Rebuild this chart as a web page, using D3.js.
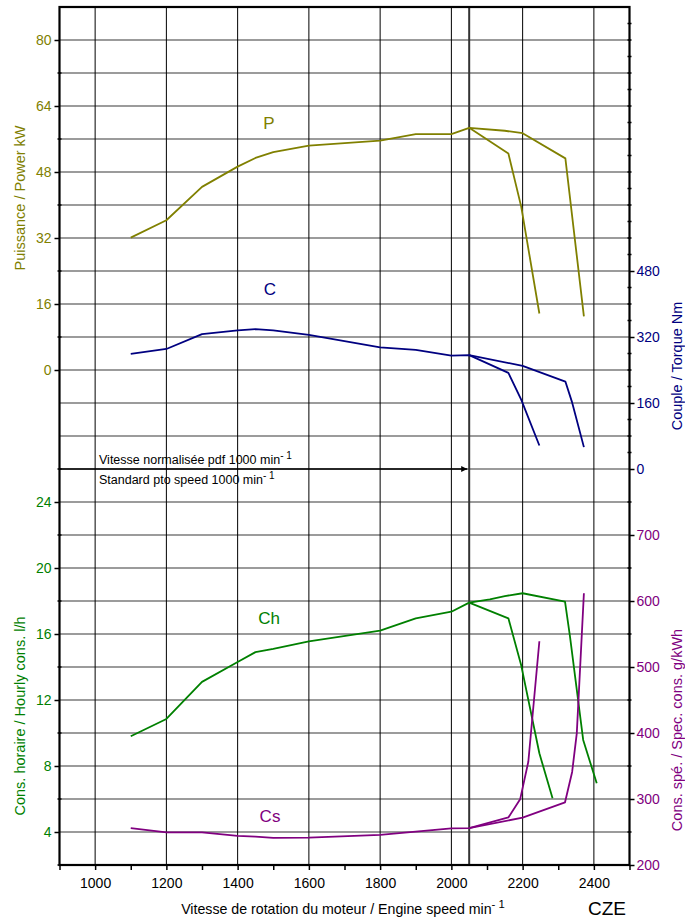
<!DOCTYPE html>
<html>
<head>
<meta charset="utf-8">
<style>
    body { margin: 0; background: #fff; }
    svg { font-family: "Liberation Sans", Arial, sans-serif; }
    .hgrid { stroke: #7a7a7a; stroke-width: 1.6; }
    .vgrid { stroke: #000; stroke-width: 1; }
    .frame { stroke: #000; stroke-width: 2.2; fill: none; }
    .curve { fill: none; stroke-width: 1.8; stroke-linejoin: round; }
    .axis path { display: none; }
    .axis line { stroke: #000; stroke-width: 1.5; }
    .axis text { font-size: 14px; }
</style>
</head>
<body>
<svg id="chart" width="685" height="921"></svg>
<script src="https://cdn.jsdelivr.net/npm/d3@7"></script>
<script>
    // engine speed, common part of every curve (min-1)
    const speedMain = [1100, 1200, 1300, 1400, 1450, 1500, 1600, 1800, 1900, 2000, 2050]

    // power kW
    const powerMain = [32.1, 36.3, 44.4, 49.3, 51.4, 52.8, 54.4, 55.6, 57.2, 57.2, 58.7]
    const powerHigh = [[2050, 58.7], [2150, 58.0], [2200, 57.4], [2320, 51.3], [2372, 13.0]]
    const powerLow = [[2050, 58.7], [2160, 52.5], [2196, 39.6], [2247, 13.7]]

    // torque Nm
    const torqueMain = [279, 291, 327, 336, 339, 336, 325, 295, 289, 275, 276]
    const torqueHigh = [[2050, 276], [2200, 250], [2320, 212], [2338, 164], [2372, 53]]
    const torqueLow = [[2050, 276], [2160, 233], [2196, 168], [2247, 57]]

    // hourly consumption l/h
    const hourlyMain = [9.8, 10.85, 13.1, 14.3, 14.9, 15.1, 15.55, 16.2, 16.95, 17.35, 17.9]
    const hourlyHigh = [[2050, 17.9], [2108, 18.1], [2150, 18.3], [2200, 18.47], [2319, 17.96], [2333, 15.84], [2370, 9.58], [2408, 6.95]]
    const hourlyLow = [[2050, 17.9], [2160, 16.95], [2196, 14.1], [2247, 8.77], [2284, 6.04]]

    // specific consumption g/kWh
    const specMain = [256, 249.5, 249.5, 244, 243, 241, 241.4, 245.5, 250.5, 255.6, 256]
    const specHigh = [[2050, 256], [2200, 271.7], [2319, 295], [2339, 341], [2352, 399.5], [2372, 611.7]]
    const specLow = [[2050, 256], [2160, 272], [2193, 299.5], [2216, 356.5], [2247, 539]]

    // tick labels
    const speedTicks = [1000, 1200, 1400, 1600, 1800, 2000, 2200, 2400]
    const powerTicks = [0, 16, 32, 48, 64, 80]
    const torqueTicks = [0, 160, 320, 480]
    const hourlyTicks = [4, 8, 12, 16, 20, 24]
    const specTicks = [200, 300, 400, 500, 600, 700]
    const ptoSpeed = 2050

    const colP = "#808000", colC = "#000080", colCh = "#008000", colCs = "#800080"

    let svg = d3.select("#chart")
    let plotLeft = 59.5, plotRight = 629.5, plotTop = 7, plotBottom = 865

    let x = d3.scaleLinear().domain([900, 2500]).range([plotLeft, plotRight])
    // 8 kW per grid row, the whole height is 26 rows
    let yP = d3.scaleLinear().domain([-120, 88]).range([plotBottom, plotTop])
    let yT = d3.scaleLinear().domain([0, 1120]).range([469, plotTop])
    let yCh = d3.scaleLinear().domain([2, 26]).range([plotBottom, 469])
    let yCs = d3.scaleLinear().domain([200, 800]).range([plotBottom, 469])

    // grid
    svg.append("g").selectAll("line")
        .data(d3.range(-112, 88, 8))
        .join("line")
        .attr("class", "hgrid")
        .attr("x1", plotLeft).attr("x2", plotRight)
        .attr("y1", d => yP(d)).attr("y2", d => yP(d))

    svg.append("g").selectAll("line")
        .data(speedTicks)
        .join("line")
        .attr("class", "vgrid")
        .attr("x1", d => x(d)).attr("x2", d => x(d))
        .attr("y1", plotTop).attr("y2", plotBottom)

    svg.append("line")
        .attr("x1", x(ptoSpeed)).attr("x2", x(ptoSpeed))
        .attr("y1", plotTop).attr("y2", plotBottom)
        .attr("stroke", "#333").attr("stroke-width", 2)

    // frame
    svg.append("rect").attr("class", "frame")
        .attr("x", plotLeft).attr("y", plotTop)
        .attr("width", plotRight - plotLeft).attr("height", plotBottom - plotTop)

    // pto arrow
    svg.append("defs").append("marker")
        .attr("id", "arrow").attr("viewBox", "0 0 10 10")
        .attr("refX", 10).attr("refY", 5)
        .attr("markerWidth", 9).attr("markerHeight", 6)
        .attr("markerUnits", "userSpaceOnUse")
        .attr("orient", "auto")
        .append("path").attr("d", "M0,0L10,5L0,10Z").attr("fill", "#000")

    svg.append("line")
        .attr("x1", plotLeft).attr("x2", x(ptoSpeed) - 2)
        .attr("y1", yT(0)).attr("y2", yT(0))
        .attr("stroke", "#000").attr("stroke-width", 1.3)
        .attr("marker-end", "url(#arrow)")

    function supText(sel, main, xx, yy, size) {
        let t = sel.append("text").attr("x", xx).attr("y", yy).attr("font-size", size)
        t.append("tspan").text(main)
        t.append("tspan").text("- 1").attr("font-size", size * 0.8).attr("dy", -size * 0.4)
        return t
    }
    supText(svg, "Vitesse normalisée pdf 1000 min", 99, 464, 12.5)
    supText(svg, "Standard pto speed 1000 min", 99, 484, 12.5)

    // axes
    function minor(sel, values, scale, xx, color) {
        sel.append("g").selectAll("line")
            .data(values)
            .join("line")
            .attr("x1", xx - 2).attr("x2", xx + 2)
            .attr("y1", d => scale(d)).attr("y2", d => scale(d))
            .attr("stroke", color).attr("stroke-width", 1.5)
    }

    let gx = svg.append("g").attr("class", "axis")
        .attr("transform", `translate(0,${plotBottom})`)
        .call(d3.axisBottom(x).tickValues(d3.range(900, 2501, 100)).tickSize(5)
            .tickFormat(d => speedTicks.includes(d) ? d : ""))
    gx.selectAll("text").attr("dy", "1.1em")

    let gP = svg.append("g").attr("class", "axis")
        .attr("transform", `translate(${plotLeft},0)`)
        .call(d3.axisLeft(yP).tickValues(powerTicks).tickSize(5).tickPadding(3))
    gP.selectAll("text").attr("fill", colP)
    minor(svg, d3.range(8, 88, 16), yP, plotLeft, "#000")

    let gCh = svg.append("g").attr("class", "axis")
        .attr("transform", `translate(${plotLeft},0)`)
        .call(d3.axisLeft(yCh).tickValues(hourlyTicks).tickSize(5).tickPadding(3))
    gCh.selectAll("text").attr("fill", colCh)
    minor(svg, d3.range(2, 27, 2).filter(d => !hourlyTicks.includes(d)), yCh, plotLeft, "#000")

    let gT = svg.append("g").attr("class", "axis")
        .attr("transform", `translate(${plotRight},0)`)
        .call(d3.axisRight(yT).tickValues(torqueTicks).tickSize(5).tickPadding(2))
    gT.selectAll("text").attr("fill", colC)
    minor(svg, d3.range(40, 1120, 40).filter(d => !torqueTicks.includes(d)), yT, plotRight, "#000")

    let gCs = svg.append("g").attr("class", "axis")
        .attr("transform", `translate(${plotRight},0)`)
        .call(d3.axisRight(yCs).tickValues(specTicks).tickSize(5).tickPadding(2))
    gCs.selectAll("text").attr("fill", colCs)
    minor(svg, d3.range(250, 800, 100), yCs, plotRight, "#000")

    // curves
    function drawCurve(main, high, low, scale, color) {
        let line = d3.line().x(d => x(d[0])).y(d => scale(d[1]))
        let base = d3.zip(speedMain, main)
        svg.append("path").attr("class", "curve").attr("stroke", color)
            .attr("d", line(base.concat(high.slice(1))))
        svg.append("path").attr("class", "curve").attr("stroke", color)
            .attr("d", line(low))
    }
    drawCurve(powerMain, powerHigh, powerLow, yP, colP)
    drawCurve(torqueMain, torqueHigh, torqueLow, yT, colC)
    drawCurve(hourlyMain, hourlyHigh, hourlyLow, yCh, colCh)
    drawCurve(specMain, specHigh, specLow, yCs, colCs)

    // curve names
    const names = [["P", 269, 129, colP], ["C", 270, 295, colC], ["Ch", 269, 624, colCh], ["Cs", 270, 822, colCs]]
    svg.append("g").selectAll("text")
        .data(names)
        .join("text")
        .attr("x", d => d[1]).attr("y", d => d[2])
        .attr("text-anchor", "middle").attr("font-size", 17)
        .attr("fill", d => d[3])
        .text(d => d[0])

    // axis titles
    function vTitle(txt, xx, yy, color) {
        svg.append("text")
            .attr("transform", `translate(${xx},${yy}) rotate(-90)`)
            .attr("text-anchor", "middle").attr("font-size", 14.5)
            .attr("fill", color).text(txt)
    }
    vTitle("Puissance / Power kW", 25, 198, colP)
    vTitle("Cons. horaire / Hourly cons. l/h", 25, 716, colCh)
    vTitle("Couple / Torque Nm", 682, 366, colC)
    vTitle("Cons. spé. / Spec. cons. g/kWh", 682, 730, colCs)

    let xt = supText(svg, "Vitesse de rotation du moteur / Engine speed min", 343, 914, 14.2)
    xt.attr("text-anchor", "middle")

    svg.append("text").attr("x", 607).attr("y", 915)
        .attr("text-anchor", "middle").attr("font-size", 19)
        .text("CZE")
</script>
</body>
</html>
